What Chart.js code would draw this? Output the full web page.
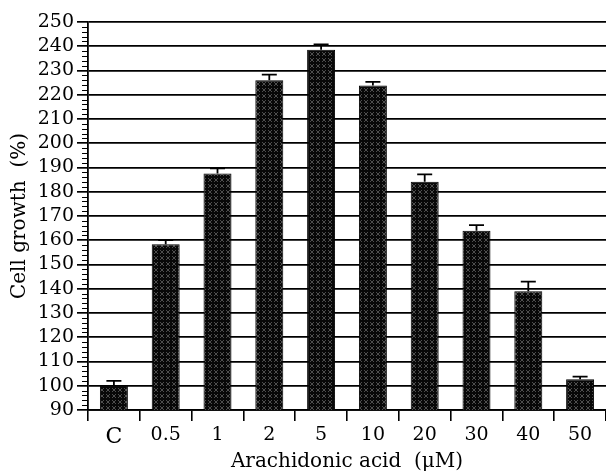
<!DOCTYPE html>
<html>
<head>
<meta charset="utf-8">
<script src="https://cdn.jsdelivr.net/npm/chart.js@4/dist/chart.umd.min.js"></script>
<style>
html,body{margin:0;padding:0;background:#fff;}
#c{display:block;}
</style>
</head>
<body>
<canvas id="c" width="606" height="473"></canvas>
<script>
const categories = ['C', '0.5', '1', '2', '5', '10', '20', '30', '40', '50'];
const growth = [100.3, 158.3, 187.5, 226, 238.6, 223.8, 184.1, 163.9, 139, 102.7];
const errors = [1.7, 1.8, 2.1, 2.3, 2.2, 1.5, 3.1, 2.3, 3.9, 1.1];
const yMin = 90, yMax = 250, yStep = 10, yMinorStep = 2;

function makePattern() {
  const p = document.createElement('canvas');
  p.width = 6; p.height = 6;
  const g = p.getContext('2d');
  g.fillStyle = '#080808';
  g.fillRect(0, 0, 6, 6);
  g.fillStyle = '#4e4e4e';
  for (let i = 0; i < 6; i++) {
    g.fillRect(i, i, 1, 1);
    g.fillRect(5 - i, i, 1, 1);
  }
  g.fillStyle = '#080808';
  g.fillRect(2, 2, 2, 2);
  return document.getElementById('c').getContext('2d').createPattern(p, 'repeat');
}

const errorBars = {
  id: 'errorBars',
  afterDatasetsDraw(chart) {
    const ctx = chart.ctx;
    const meta = chart.getDatasetMeta(0);
    const y = chart.scales.y;
    ctx.save();
    ctx.strokeStyle = '#000';
    ctx.lineWidth = 1.8;
    meta.data.forEach((bar, i) => {
      const top = y.getPixelForValue(growth[i] + errors[i]);
      const base = y.getPixelForValue(growth[i]);
      ctx.beginPath();
      ctx.moveTo(bar.x, base);
      ctx.lineTo(bar.x, top);
      ctx.moveTo(bar.x - 7.5, top);
      ctx.lineTo(bar.x + 7.5, top);
      ctx.stroke();
    });
    ctx.restore();
  }
};

const minorTicks = {
  id: 'minorTicks',
  afterDraw(chart) {
    const ctx = chart.ctx;
    const y = chart.scales.y;
    const x0 = chart.chartArea.left;
    ctx.save();
    ctx.strokeStyle = '#000';
    ctx.lineWidth = 1;
    for (let v = yMin; v <= yMax; v += yMinorStep) {
      if (v % yStep === 0) continue;
      const py = Math.round(y.getPixelForValue(v)) + 0.5;
      ctx.beginPath();
      ctx.moveTo(x0 - 6, py);
      ctx.lineTo(x0, py);
      ctx.stroke();
    }
    ctx.restore();
  }
};

const serif = "'DejaVu Serif', 'Liberation Serif', serif";

new Chart(document.getElementById('c'), {
  type: 'bar',
  data: {
    labels: categories,
    datasets: [{
      data: growth,
      backgroundColor: makePattern(),
      borderColor: '#000',
      borderWidth: 1,
      categoryPercentage: 1,
      barPercentage: 0.54
    }]
  },
  options: {
    responsive: false,
    animation: false,
    devicePixelRatio: 1,
    layout: { padding: { top: 22, right: 0, bottom: 0, left: 0 } },
    plugins: { legend: { display: false }, tooltip: { enabled: false } },
    scales: {
      x: {
        offset: true,
        grid: { display: true, drawOnChartArea: false, drawTicks: true, tickLength: 11, color: '#000', lineWidth: 1.6, offset: true },
        border: { display: true, color: '#000', width: 1.8 },
        ticks: {
          color: '#000',
          padding: 3,
          autoSkip: false,
          maxRotation: 0,
          font: (ctx) => ({ family: serif, size: ctx.index === 0 ? 22 : 19, lineHeight: 1.2 })
        },
        title: {
          display: true,
          text: 'Arachidonic acid  (μM)',
          color: '#000',
          font: { family: serif, size: 20, lineHeight: 1.1 },
          padding: { top: 0, bottom: 0 }
        },
        afterFit(scale) { scale.height = 63; }
      },
      y: {
        min: yMin,
        max: yMax,
        ticks: {
          stepSize: yStep,
          autoSkip: false,
          color: '#000',
          padding: 3,
          font: { family: serif, size: 19, lineHeight: 1.0 }
        },
        grid: { color: '#000', lineWidth: 1.7, drawTicks: true, tickLength: 11 },
        border: { display: true, color: '#000', width: 1.8 },
        title: {
          display: true,
          text: 'Cell growth  (%)',
          color: '#000',
          font: { family: serif, size: 20, lineHeight: 1.2 },
          padding: { top: 8, bottom: 0 }
        },
        afterFit(scale) { scale.width = 88; }
      }
    }
  },
  plugins: [errorBars, minorTicks]
});
</script>
</body>
</html>
